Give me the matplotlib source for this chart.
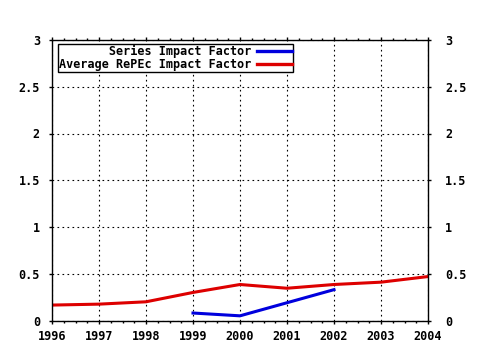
import matplotlib
matplotlib.use("Agg")
import matplotlib.pyplot as plt
from matplotlib.ticker import MultipleLocator
import matplotlib.transforms as mtransforms

years = [1996, 1997, 1998, 1999, 2000, 2001, 2002, 2003, 2004]
avg_repec = [0.165, 0.175, 0.20, 0.30, 0.385, 0.345, 0.385, 0.41, 0.47]
series_years = [1999, 2000, 2001, 2002]
series_if = [0.08, 0.05, 0.19, 0.33]
y_ticks = [0, 0.5, 1, 1.5, 2, 2.5, 3]
y_labels = ["0", "0.5", "1", "1.5", "2", "2.5", "3"]
labels = ["Series Impact Factor", "Average RePEc Impact Factor"]

plt.rcParams['font.family'] = ['DejaVu Sans Mono']
plt.rcParams['font.weight'] = 'bold'

fig = plt.figure(figsize=(4.8, 3.5), dpi=100)
ax = fig.add_axes([52/480, 1-320.5/350, 376/480, 280.5/350])

blue = '#0000dd'
red = '#dd0000'
lab_series = labels[0].rjust(len(labels[1]))
ax.plot(series_years, series_if, color=blue, lw=2.2, label=lab_series)
ax.plot(years, avg_repec, color=red, lw=2.2, label=labels[1])

ax.set_xlim(1996, 2004)
ax.set_ylim(0, 3)
ax.set_xticks(years)
ax.set_xticklabels([str(y) for y in years], fontsize=8.5, fontweight='bold')
ax.set_yticks(y_ticks)
ax.set_yticklabels(y_labels, fontsize=8.5, fontweight='bold')
ax.xaxis.set_minor_locator(MultipleLocator(0.25))

ax.grid(True, which='major', color='black', linestyle=(0, (1.5, 3)), linewidth=0.8)
for s in ax.spines.values():
    s.set_linewidth(1.0)
    s.set_color('black')

ax.tick_params(axis='x', which='major', direction='out', length=2.2, width=1,
               top=True, bottom=True, pad=5)
ax.tick_params(axis='x', which='minor', direction='out', length=1.5, width=1,
               top=True, bottom=True)
ax.tick_params(axis='y', which='major', direction='out', length=2.2, width=1,
               left=True, right=True, labelleft=True, labelright=True, pad=6.5)

offset = mtransforms.ScaledTranslation(5/100, 0, fig.dpi_scale_trans)
for tick in ax.yaxis.get_major_ticks():
    tick.label2.set_transform(tick.label2.get_transform() + offset)

leg = ax.legend(loc='upper left', bbox_to_anchor=(6/376, 1 - 4/280.5),
                borderaxespad=0, borderpad=0.1, markerfirst=False,
                handlelength=2.9, handletextpad=0.5, labelspacing=0.0,
                fancybox=False, framealpha=1, edgecolor='black',
                prop={'family': 'DejaVu Sans Mono', 'weight': 'bold', 'size': 8.5})
leg.get_frame().set_linewidth(1.0)
for line in leg.get_lines():
    line.set_linewidth(2.4)

fig.savefig('out.png', dpi=100)
